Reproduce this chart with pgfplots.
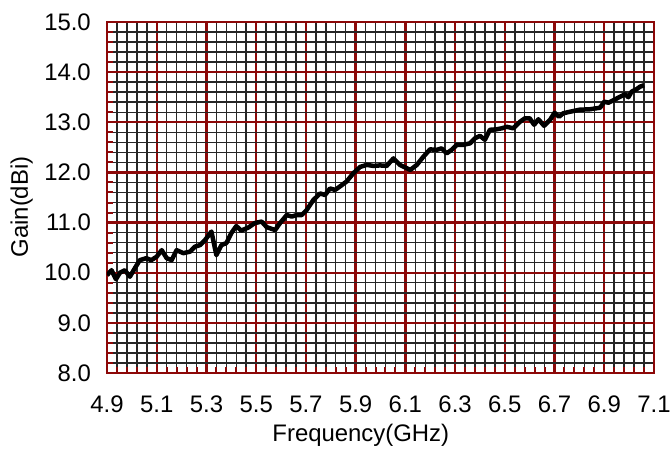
\documentclass[border=0pt]{standalone}
\usepackage{fontspec}
\setmainfont{Liberation Sans}
\usepackage{pgfplots}
\pgfplotsset{compat=1.18}
\definecolor{gridred}{RGB}{140,8,8}

\begin{document}
\begin{tikzpicture}
\begin{axis}[
  scale only axis, width=547bp, height=351bp,
  xmin=4.9, xmax=7.1, ymin=8, ymax=15,
  xtick={4.9,5.1,5.3,5.5,5.7,5.9,6.1,6.3,6.5,6.7,6.9,7.1},
  ytick={8,9,10,11,12,13,14,15},
  minor xtick={4.94,4.98,5.02,5.06,5.14,5.18,5.22,5.26,5.34,5.38,5.42,5.46,
    5.54,5.58,5.62,5.66,5.74,5.78,5.82,5.86,5.94,5.98,6.02,6.06,
    6.14,6.18,6.22,6.26,6.34,6.38,6.42,6.46,6.54,6.58,6.62,6.66,
    6.74,6.78,6.82,6.86,6.94,6.98,7.02,7.06},
  minor ytick={8.2,8.4,8.6,8.8,9.2,9.4,9.6,9.8,10.2,10.4,10.6,10.8,
    11.2,11.4,11.6,11.8,12.2,12.4,12.6,12.8,13.2,13.4,13.6,13.8,
    14.2,14.4,14.6,14.8},
  grid=both,
  minor grid style={black!85, line width=1.5bp},
  major grid style={gridred, line width=2.4bp},
  axis line style={gridred, line width=2.5bp},
  tick align=inside, xtick pos=bottom, ytick pos=left,
  major tick length=0pt, minor tick length=6bp,
  tick style={gridred, line width=2bp},
  font=\fontsize{24}{28}\selectfont,
  /pgf/number format/assume math mode=true,
  xticklabel={\pgfmathprintnumber[fixed,fixed zerofill,precision=1]{\tick}},
  yticklabel={\pgfmathprintnumber[fixed,fixed zerofill,precision=1]{\tick}},
  xticklabel style={inner sep=0pt, anchor=north, yshift=-23bp},
  yticklabel style={inner sep=0pt, anchor=east, xshift=-16bp},
  xlabel={Frequency(GHz)}, ylabel={Gain(dBi)},
  xlabel style={at={(axis description cs:0.464,0)}, anchor=north, inner sep=0pt, yshift=-51bp},
  ylabel style={at={(axis description cs:0,0.473)}, rotate=0, anchor=south, inner sep=0pt, yshift=74bp},
]
\addplot[black, line width=4.5bp, line join=round] coordinates {
(4.900,9.95) (4.918,10.05) (4.936,9.87) (4.952,10.00) (4.972,10.05) (4.992,9.92)
(5.012,10.09) (5.032,10.25) (5.058,10.29) (5.078,10.25) (5.100,10.32) (5.120,10.45)
(5.140,10.29) (5.160,10.25) (5.180,10.45) (5.207,10.39) (5.234,10.42) (5.254,10.52)
(5.274,10.55) (5.294,10.65) (5.320,10.82) (5.340,10.35) (5.360,10.55) (5.380,10.59)
(5.400,10.79) (5.420,10.93) (5.440,10.84) (5.468,10.90) (5.495,10.99) (5.522,11.02)
(5.542,10.91) (5.576,10.85) (5.596,10.99) (5.623,11.15) (5.643,11.12) (5.663,11.15)
(5.683,11.15) (5.703,11.25) (5.730,11.45) (5.757,11.58) (5.777,11.55) (5.797,11.68)
(5.817,11.65) (5.837,11.72) (5.864,11.82) (5.890,11.98) (5.918,12.11) (5.945,12.15)
(5.972,12.13) (5.998,12.14) (6.025,12.13) (6.052,12.28) (6.078,12.15) (6.120,12.05)
(6.146,12.15) (6.172,12.31) (6.199,12.46) (6.226,12.45) (6.246,12.48) (6.266,12.38)
(6.286,12.45) (6.307,12.55) (6.333,12.55) (6.360,12.58) (6.380,12.68) (6.400,12.73)
(6.420,12.65) (6.440,12.85) (6.467,12.86) (6.488,12.88) (6.508,12.91) (6.534,12.88)
(6.561,13.01) (6.581,13.08) (6.600,13.08) (6.618,12.95) (6.635,13.06) (6.658,12.93)
(6.682,13.05) (6.700,13.19) (6.718,13.11) (6.735,13.18) (6.762,13.21) (6.800,13.25)
(6.843,13.26) (6.883,13.29) (6.900,13.41) (6.917,13.39) (6.937,13.44) (6.964,13.51)
(6.984,13.56) (6.997,13.50) (7.010,13.61) (7.030,13.66) (7.044,13.71) (7.060,13.74)
};
\end{axis}
\pgfresetboundingbox
\path[use as bounding box] ([shift={(-107bp,-80bp)}]current axis.south west)
  rectangle ([shift={(17bp,22bp)}]current axis.north east);
\end{tikzpicture}
\end{document}
